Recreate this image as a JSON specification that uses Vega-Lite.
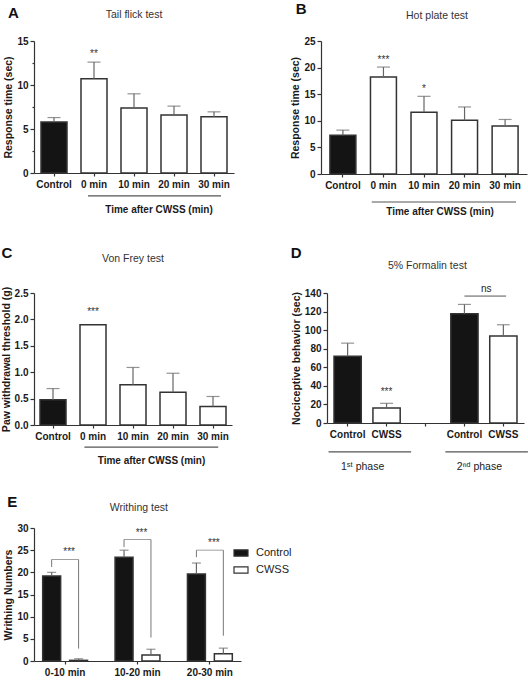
{
  "$schema": "https://vega.github.io/schema/vega-lite/v6.json",
  "padding": {"left": 1, "top": 2, "right": 0, "bottom": 0},
  "config": {
    "font": "Liberation Sans",
    "view": {"stroke": null},
    "axis": {"grid": false, "labelOverlap": false, "labelFont": "Liberation Sans", "labelFontWeight": "bold", "labelFontSize": 10, "labelColor": "#1a1a1a", "titleFont": "Liberation Sans", "titleFontWeight": "bold", "titleFontSize": 10.5, "titleColor": "#1a1a1a", "domainColor": "#333", "domainWidth": 1.2, "tickColor": "#333", "tickWidth": 1.2},
    "axisY": {"tickSize": 4, "labelPadding": 2, "titlePadding": 3},
    "axisX": {"tickSize": 3, "labelPadding": 3, "labelAngle": 0},
    "text": {"font": "Liberation Sans"}
  },
  "spacing": 28,
  "resolve": {"scale": {"fill": "independent"}, "legend": {"fill": "independent"}},
  "vconcat": [
    {
      "spacing": 56,
      "hconcat": [
        {
          "width": 200, "height": 132,
          "layer": [
            {
              "data": {"values": [
                {"time": "Control", "group": "Control", "mean": 5.8, "upper": 6.3, "sig": ""},
                {"time": "0 min", "group": "CWSS", "mean": 10.7, "upper": 12.6, "sig": "**"},
                {"time": "10 min", "group": "CWSS", "mean": 7.4, "upper": 9.0, "sig": ""},
                {"time": "20 min", "group": "CWSS", "mean": 6.6, "upper": 7.6, "sig": ""},
                {"time": "30 min", "group": "CWSS", "mean": 6.4, "upper": 6.95, "sig": ""}
              ]},
              "encoding": {
                "x": {"field": "time", "type": "nominal", "scale": {"domain": ["Control", "0 min", "10 min", "20 min", "30 min"], "paddingInner": 0.35, "paddingOuter": 0.175}, "axis": {"title": null}}
              },
              "layer": [
                {"mark": {"type": "bar", "stroke": "#333", "strokeWidth": 1.5},
                 "encoding": {
                   "y": {"field": "mean", "type": "quantitative", "scale": {"domain": [0, 15], "nice": false}, "axis": {"title": "Response time (sec)", "values": [0, 2.5, 5, 7.5, 10, 12.5, 15], "labelExpr": "datum.value % 5 == 0 ? datum.label : ''", "tickSize": {"condition": {"test": "datum.value % 5 != 0", "value": 2}, "value": 4}}},
                   "fill": {"condition": {"test": "datum.group == 'Control'", "value": "#141414"}, "value": "#ffffff"}
                 }},
                {"mark": {"type": "rule", "color": "#666", "strokeWidth": 1.2},
                 "encoding": {"y": {"field": "mean", "type": "quantitative", "axis": {"title": "Response time (sec)", "values": [0, 2.5, 5, 7.5, 10, 12.5, 15], "labelExpr": "datum.value % 5 == 0 ? datum.label : ''", "tickSize": {"condition": {"test": "datum.value % 5 != 0", "value": 2}, "value": 4}}}, "y2": {"field": "upper"}}},
                {"mark": {"type": "tick", "color": "#666", "thickness": 1.2, "size": 13},
                 "encoding": {"y": {"field": "upper", "type": "quantitative", "axis": {"title": "Response time (sec)", "values": [0, 2.5, 5, 7.5, 10, 12.5, 15], "labelExpr": "datum.value % 5 == 0 ? datum.label : ''", "tickSize": {"condition": {"test": "datum.value % 5 != 0", "value": 2}, "value": 4}}}}},
                {"mark": {"type": "text", "baseline": "bottom", "dy": -3, "fontSize": 10, "color": "#333"},
                 "encoding": {"y": {"field": "upper", "type": "quantitative", "axis": {"title": "Response time (sec)", "values": [0, 2.5, 5, 7.5, 10, 12.5, 15], "labelExpr": "datum.value % 5 == 0 ? datum.label : ''", "tickSize": {"condition": {"test": "datum.value % 5 != 0", "value": 2}, "value": 4}}}, "text": {"field": "sig"}}}
              ]
            },
            {
              "data": {"values": [{"from": "0 min", "to": "30 min", "label": "Time after CWSS (min)"}]},
              "layer": [
                {"mark": {"type": "rule", "color": "#555", "strokeWidth": 1.2},
                 "encoding": {
                   "x": {"field": "from", "type": "nominal", "bandPosition": 0.27, "axis": {"title": null}},
                   "x2": {"field": "to", "bandPosition": 0.77},
                   "y": {"datum": -2.6, "type": "quantitative", "axis": {"title": "Response time (sec)", "values": [0, 2.5, 5, 7.5, 10, 12.5, 15], "labelExpr": "datum.value % 5 == 0 ? datum.label : ''", "tickSize": {"condition": {"test": "datum.value % 5 != 0", "value": 2}, "value": 4}}}
                 }},
                {"mark": {"type": "text", "fontSize": 10, "fontWeight": "bold", "color": "#1a1a1a", "baseline": "middle"},
                 "encoding": {
                   "x": {"field": "from", "type": "nominal", "bandPosition": 3.0, "axis": {"title": null}},
                   "y": {"datum": -4.2, "type": "quantitative", "axis": {"title": "Response time (sec)", "values": [0, 2.5, 5, 7.5, 10, 12.5, 15], "labelExpr": "datum.value % 5 == 0 ? datum.label : ''", "tickSize": {"condition": {"test": "datum.value % 5 != 0", "value": 2}, "value": 4}}},
                   "text": {"field": "label"}
                 }}
              ]
            },
            {
              "data": {"values": [{"panel": "A", "test": "Tail flick test", "first": "Control", "middle": "10 min"}]},
              "layer": [
                {"mark": {"type": "text", "fontSize": 15, "fontWeight": "bold", "color": "#111", "baseline": "middle", "align": "center"},
                 "encoding": {
                   "x": {"field": "first", "type": "nominal", "bandPosition": -1.06, "axis": {"title": null}},
                   "y": {"datum": 18.2, "type": "quantitative", "axis": {"title": "Response time (sec)", "values": [0, 2.5, 5, 7.5, 10, 12.5, 15], "labelExpr": "datum.value % 5 == 0 ? datum.label : ''", "tickSize": {"condition": {"test": "datum.value % 5 != 0", "value": 2}, "value": 4}}},
                   "text": {"field": "panel"}
                 }},
                {"mark": {"type": "text", "fontSize": 10.5, "color": "#333", "baseline": "middle", "align": "center"},
                 "encoding": {
                   "x": {"field": "middle", "type": "nominal", "bandPosition": 0.5, "axis": {"title": null}},
                   "y": {"datum": 17.95, "type": "quantitative", "axis": {"title": "Response time (sec)", "values": [0, 2.5, 5, 7.5, 10, 12.5, 15], "labelExpr": "datum.value % 5 == 0 ? datum.label : ''", "tickSize": {"condition": {"test": "datum.value % 5 != 0", "value": 2}, "value": 4}}},
                   "text": {"field": "test"}
                 }}
              ]
            }
          ]
        },
        {
          "width": 206, "height": 133,
          "layer": [
            {
              "data": {"values": [
                {"time": "Control", "group": "Control", "mean": 7.3, "upper": 8.25, "sig": ""},
                {"time": "0 min", "group": "CWSS", "mean": 18.25, "upper": 20.1, "sig": "***"},
                {"time": "10 min", "group": "CWSS", "mean": 11.6, "upper": 14.6, "sig": "*"},
                {"time": "20 min", "group": "CWSS", "mean": 10.1, "upper": 12.6, "sig": ""},
                {"time": "30 min", "group": "CWSS", "mean": 9.0, "upper": 10.25, "sig": ""}
              ]},
              "encoding": {
                "x": {"field": "time", "type": "nominal", "scale": {"domain": ["Control", "0 min", "10 min", "20 min", "30 min"], "paddingInner": 0.36, "paddingOuter": 0.22}, "axis": {"title": null}}
              },
              "layer": [
                {"mark": {"type": "bar", "stroke": "#333", "strokeWidth": 1.5},
                 "encoding": {
                   "y": {"field": "mean", "type": "quantitative", "scale": {"domain": [0, 25], "nice": false}, "axis": {"title": "Response time (sec)", "values": [0, 5, 10, 15, 20, 25]}},
                   "fill": {"condition": {"test": "datum.group == 'Control'", "value": "#141414"}, "value": "#ffffff"}
                 }},
                {"mark": {"type": "rule", "color": "#666", "strokeWidth": 1.2},
                 "encoding": {"y": {"field": "mean", "type": "quantitative", "axis": {"title": "Response time (sec)", "values": [0, 5, 10, 15, 20, 25]}}, "y2": {"field": "upper"}}},
                {"mark": {"type": "tick", "color": "#666", "thickness": 1.2, "size": 13},
                 "encoding": {"y": {"field": "upper", "type": "quantitative", "axis": {"title": "Response time (sec)", "values": [0, 5, 10, 15, 20, 25]}}}},
                {"mark": {"type": "text", "baseline": "bottom", "dy": -2, "fontSize": 10, "color": "#333"},
                 "encoding": {"y": {"field": "upper", "type": "quantitative", "axis": {"title": "Response time (sec)", "values": [0, 5, 10, 15, 20, 25]}}, "text": {"field": "sig"}}}
              ]
            },
            {
              "data": {"values": [{"from": "0 min", "to": "30 min", "label": "Time after CWSS (min)"}]},
              "layer": [
                {"mark": {"type": "rule", "color": "#555", "strokeWidth": 1.2},
                 "encoding": {
                   "x": {"field": "from", "type": "nominal", "bandPosition": 0.05, "axis": {"title": null}},
                   "x2": {"field": "to", "bandPosition": 0.92},
                   "y": {"datum": -5.26, "type": "quantitative", "axis": {"title": "Response time (sec)", "values": [0, 5, 10, 15, 20, 25]}}
                 }},
                {"mark": {"type": "text", "fontSize": 10, "fontWeight": "bold", "color": "#1a1a1a", "baseline": "middle"},
                 "encoding": {
                   "x": {"field": "from", "type": "nominal", "bandPosition": 2.68, "axis": {"title": null}},
                   "y": {"datum": -7.1, "type": "quantitative", "axis": {"title": "Response time (sec)", "values": [0, 5, 10, 15, 20, 25]}},
                   "text": {"field": "label"}
                 }}
              ]
            },
            {
              "data": {"values": [{"panel": "B", "test": "Hot plate test", "first": "Control", "middle": "10 min"}]},
              "layer": [
                {"mark": {"type": "text", "fontSize": 15, "fontWeight": "bold", "color": "#111", "baseline": "middle", "align": "center"},
                 "encoding": {
                   "x": {"field": "first", "type": "nominal", "bandPosition": -1.11, "axis": {"title": null}},
                   "y": {"datum": 31.0, "type": "quantitative", "axis": {"title": "Response time (sec)", "values": [0, 5, 10, 15, 20, 25]}},
                   "text": {"field": "panel"}
                 }},
                {"mark": {"type": "text", "fontSize": 10.5, "color": "#333", "baseline": "middle", "align": "center"},
                 "encoding": {
                   "x": {"field": "middle", "type": "nominal", "bandPosition": 1.0, "axis": {"title": null}},
                   "y": {"datum": 29.7, "type": "quantitative", "axis": {"title": "Response time (sec)", "values": [0, 5, 10, 15, 20, 25]}},
                   "text": {"field": "test"}
                 }}
              ]
            }
          ]
        }
      ]
    },
    {
      "spacing": 21,
      "resolve": {"scale": {"fill": "independent"}, "legend": {"fill": "independent"}},
      "vconcat": [
        {
          "spacing": 58,
          "hconcat": [
            {
              "width": 198, "height": 132,
              "layer": [
                {
                  "data": {"values": [
                    {"time": "Control", "group": "Control", "mean": 0.48, "upper": 0.69, "sig": ""},
                    {"time": "0 min", "group": "CWSS", "mean": 1.9, "upper": 1.9, "sig": "***"},
                    {"time": "10 min", "group": "CWSS", "mean": 0.76, "upper": 1.09, "sig": ""},
                    {"time": "20 min", "group": "CWSS", "mean": 0.62, "upper": 0.98, "sig": ""},
                    {"time": "30 min", "group": "CWSS", "mean": 0.35, "upper": 0.54, "sig": ""}
                  ]},
                  "encoding": {
                    "x": {"field": "time", "type": "nominal", "scale": {"domain": ["Control", "0 min", "10 min", "20 min", "30 min"], "paddingInner": 0.35, "paddingOuter": 0.15}, "axis": {"title": null}}
                  },
                  "layer": [
                    {"mark": {"type": "bar", "stroke": "#333", "strokeWidth": 1.5},
                     "encoding": {
                       "y": {"field": "mean", "type": "quantitative", "scale": {"domain": [0, 2.5], "nice": false}, "axis": {"title": "Paw withdrawal threshold (g)", "values": [0, 0.5, 1, 1.5, 2, 2.5], "format": ".1f"}},
                       "fill": {"condition": {"test": "datum.group == 'Control'", "value": "#141414"}, "value": "#ffffff"}
                     }},
                    {"transform": [{"filter": "datum.upper > datum.mean"}],
                     "mark": {"type": "rule", "color": "#666", "strokeWidth": 1.2},
                     "encoding": {"y": {"field": "mean", "type": "quantitative", "axis": {"title": "Paw withdrawal threshold (g)", "values": [0, 0.5, 1, 1.5, 2, 2.5], "format": ".1f"}}, "y2": {"field": "upper"}}},
                    {"transform": [{"filter": "datum.upper > datum.mean"}],
                     "mark": {"type": "tick", "color": "#666", "thickness": 1.2, "size": 13},
                     "encoding": {"y": {"field": "upper", "type": "quantitative", "axis": {"title": "Paw withdrawal threshold (g)", "values": [0, 0.5, 1, 1.5, 2, 2.5], "format": ".1f"}}}},
                    {"mark": {"type": "text", "baseline": "bottom", "dy": -8, "fontSize": 10, "color": "#333"},
                     "encoding": {"y": {"field": "upper", "type": "quantitative", "axis": {"title": "Paw withdrawal threshold (g)", "values": [0, 0.5, 1, 1.5, 2, 2.5], "format": ".1f"}}, "text": {"field": "sig"}}}
                  ]
                },
                {
                  "data": {"values": [{"from": "0 min", "to": "30 min", "label": "Time after CWSS (min)"}]},
                  "layer": [
                    {"mark": {"type": "rule", "color": "#555", "strokeWidth": 1.2},
                     "encoding": {
                       "x": {"field": "from", "type": "nominal", "bandPosition": 0.17, "axis": {"title": null}},
                       "x2": {"field": "to", "bandPosition": 0.7},
                       "y": {"datum": -0.42, "type": "quantitative", "axis": {"title": "Paw withdrawal threshold (g)", "values": [0, 0.5, 1, 1.5, 2, 2.5], "format": ".1f"}}
                     }},
                    {"mark": {"type": "text", "fontSize": 10, "fontWeight": "bold", "color": "#1a1a1a", "baseline": "middle"},
                     "encoding": {
                       "x": {"field": "from", "type": "nominal", "bandPosition": 2.75, "axis": {"title": null}},
                       "y": {"datum": -0.68, "type": "quantitative", "axis": {"title": "Paw withdrawal threshold (g)", "values": [0, 0.5, 1, 1.5, 2, 2.5], "format": ".1f"}},
                       "text": {"field": "label"}
                     }}
                  ]
                },
                {
                  "data": {"values": [{"panel": "C", "test": "Von Frey test", "first": "Control", "middle": "10 min"}]},
                  "layer": [
                    {"mark": {"type": "text", "fontSize": 15, "fontWeight": "bold", "color": "#111", "baseline": "middle", "align": "center"},
                     "encoding": {
                       "x": {"field": "first", "type": "nominal", "bandPosition": -1.27, "axis": {"title": null}},
                       "y": {"datum": 3.26, "type": "quantitative", "axis": {"title": "Paw withdrawal threshold (g)", "values": [0, 0.5, 1, 1.5, 2, 2.5], "format": ".1f"}},
                       "text": {"field": "panel"}
                     }},
                    {"mark": {"type": "text", "fontSize": 10.5, "color": "#333", "baseline": "middle", "align": "center"},
                     "encoding": {
                       "x": {"field": "middle", "type": "nominal", "bandPosition": 0.5, "axis": {"title": null}},
                       "y": {"datum": 3.14, "type": "quantitative", "axis": {"title": "Paw withdrawal threshold (g)", "values": [0, 0.5, 1, 1.5, 2, 2.5], "format": ".1f"}},
                       "text": {"field": "test"}
                     }}
                  ]
                }
              ]
            },
            {
              "width": 197, "height": 130,
              "layer": [
                {
                  "data": {"values": [
                    {"cat": "Control (1st phase)", "group": "Control", "mean": 72.0, "upper": 86.0, "sig": ""},
                    {"cat": "CWSS (1st phase)", "group": "CWSS", "mean": 16.2, "upper": 21.2, "sig": "***"},
                    {"cat": "Control (2nd phase)", "group": "Control", "mean": 117.7, "upper": 127.7, "sig": ""},
                    {"cat": "CWSS (2nd phase)", "group": "CWSS", "mean": 93.6, "upper": 105.8, "sig": ""}
                  ]},
                  "encoding": {
                    "x": {"field": "cat", "type": "nominal", "scale": {"domain": ["Control (1st phase)", "CWSS (1st phase)", "between phases", "Control (2nd phase)", "CWSS (2nd phase)"], "paddingInner": 0.3, "paddingOuter": 0.18}, "axis": {"title": null, "labelExpr": "indexof(datum.value, ' (') > 0 ? split(datum.value, ' (')[0] : ''"}}
                  },
                  "layer": [
                    {"mark": {"type": "bar", "stroke": "#333", "strokeWidth": 1.5},
                     "encoding": {
                       "y": {"field": "mean", "type": "quantitative", "scale": {"domain": [0, 140], "nice": false}, "axis": {"title": "Nociceptive behavior (sec)", "values": [0, 20, 40, 60, 80, 100, 120, 140]}},
                       "fill": {"condition": {"test": "datum.group == 'Control'", "value": "#141414"}, "value": "#ffffff"}
                     }},
                    {"mark": {"type": "rule", "color": "#666", "strokeWidth": 1.2},
                     "encoding": {"y": {"field": "mean", "type": "quantitative", "axis": {"title": "Nociceptive behavior (sec)", "values": [0, 20, 40, 60, 80, 100, 120, 140]}}, "y2": {"field": "upper"}}},
                    {"mark": {"type": "tick", "color": "#666", "thickness": 1.2, "size": 13},
                     "encoding": {"y": {"field": "upper", "type": "quantitative", "axis": {"title": "Nociceptive behavior (sec)", "values": [0, 20, 40, 60, 80, 100, 120, 140]}}}},
                    {"mark": {"type": "text", "baseline": "bottom", "dy": -6, "fontSize": 10, "color": "#333"},
                     "encoding": {"y": {"field": "upper", "type": "quantitative", "axis": {"title": "Nociceptive behavior (sec)", "values": [0, 20, 40, 60, 80, 100, 120, 140]}}, "text": {"field": "sig"}}}
                  ]
                },
                {
                  "data": {"values": [
                    {"from": "Control (1st phase)", "to": "CWSS (1st phase)", "label": "1ˢᵗ phase"},
                    {"from": "Control (2nd phase)", "to": "CWSS (2nd phase)", "label": "2ⁿᵈ phase"}
                  ]},
                  "layer": [
                    {"mark": {"type": "rule", "color": "#555", "strokeWidth": 1.2},
                     "encoding": {
                       "x": {"field": "from", "type": "nominal", "bandPosition": -0.2, "axis": {"title": null}},
                       "x2": {"field": "to", "bandPosition": 1.4},
                       "y": {"datum": -31, "type": "quantitative", "axis": {"title": "Nociceptive behavior (sec)", "values": [0, 20, 40, 60, 80, 100, 120, 140]}}
                     }},
                    {"mark": {"type": "text", "fontSize": 10.5, "color": "#222", "baseline": "middle"},
                     "encoding": {
                       "x": {"field": "from", "type": "nominal", "bandPosition": 1.05, "axis": {"title": null}},
                       "y": {"datum": -47.5, "type": "quantitative", "axis": {"title": "Nociceptive behavior (sec)", "values": [0, 20, 40, 60, 80, 100, 120, 140]}},
                       "text": {"field": "label"}
                     }}
                  ]
                },
                {
                  "data": {"values": [{"from": "Control (2nd phase)", "to": "CWSS (2nd phase)", "label": "ns"}]},
                  "layer": [
                    {"mark": {"type": "rule", "color": "#555", "strokeWidth": 1},
                     "encoding": {
                       "x": {"field": "from", "type": "nominal", "bandPosition": 0.5, "axis": {"title": null}},
                       "x2": {"field": "to", "bandPosition": 0.6},
                       "y": {"datum": 136.7, "type": "quantitative", "axis": {"title": "Nociceptive behavior (sec)", "values": [0, 20, 40, 60, 80, 100, 120, 140]}}
                     }},
                    {"mark": {"type": "text", "fontSize": 10, "color": "#222", "baseline": "bottom", "dy": -2},
                     "encoding": {
                       "x": {"field": "from", "type": "nominal", "bandPosition": 1.3, "axis": {"title": null}},
                       "y": {"datum": 136.7, "type": "quantitative", "axis": {"title": "Nociceptive behavior (sec)", "values": [0, 20, 40, 60, 80, 100, 120, 140]}},
                       "text": {"field": "label"}
                     }}
                  ]
                },
                {
                  "data": {"values": [{"panel": "D", "test": "5% Formalin test", "first": "Control (1st phase)", "middle": "between phases"}]},
                  "layer": [
                    {"mark": {"type": "text", "fontSize": 15, "fontWeight": "bold", "color": "#111", "baseline": "middle", "align": "center"},
                     "encoding": {
                       "x": {"field": "first", "type": "nominal", "bandPosition": -1.39, "axis": {"title": null}},
                       "y": {"datum": 183, "type": "quantitative", "axis": {"title": "Nociceptive behavior (sec)", "values": [0, 20, 40, 60, 80, 100, 120, 140]}},
                       "text": {"field": "panel"}
                     }},
                    {"mark": {"type": "text", "fontSize": 10.5, "color": "#333", "baseline": "middle", "align": "center"},
                     "encoding": {
                       "x": {"field": "middle", "type": "nominal", "bandPosition": 0.57, "axis": {"title": null}},
                       "y": {"datum": 169, "type": "quantitative", "axis": {"title": "Nociceptive behavior (sec)", "values": [0, 20, 40, 60, 80, 100, 120, 140]}},
                       "text": {"field": "test"}
                     }}
                  ]
                }
              ]
            }
          ]
        },
        {
          "width": 207, "height": 133,
          "layer": [
            {
              "data": {"values": [
                {"time": "0-10 min", "group": "Control", "mean": 19.2, "upper": 20.0},
                {"time": "0-10 min", "group": "CWSS", "mean": 0.15, "upper": 0.5},
                {"time": "10-20 min", "group": "Control", "mean": 23.4, "upper": 25.0},
                {"time": "10-20 min", "group": "CWSS", "mean": 1.36, "upper": 2.65},
                {"time": "20-30 min", "group": "Control", "mean": 19.65, "upper": 22.1},
                {"time": "20-30 min", "group": "CWSS", "mean": 1.66, "upper": 2.9}
              ]},
              "encoding": {
                "x": {"field": "time", "type": "nominal", "scale": {"domain": ["0-10 min", "10-20 min", "20-30 min"], "paddingInner": 0.38, "paddingOuter": 0.12}, "axis": {"title": null}},
                "xOffset": {"field": "group", "type": "nominal", "scale": {"domain": ["Control", "CWSS"], "paddingInner": 0.333, "paddingOuter": 0}}
              },
              "layer": [
                {"mark": {"type": "bar", "stroke": "#333", "strokeWidth": 1.5},
                 "encoding": {
                   "y": {"field": "mean", "type": "quantitative", "scale": {"domain": [0, 30], "nice": false}, "axis": {"title": "Writhing Numbers", "values": [0, 5, 10, 15, 20, 25, 30]}},
                   "fill": {"field": "group", "type": "nominal", "scale": {"domain": ["Control", "CWSS"], "range": ["#141414", "#ffffff"]},
                     "legend": {"orient": "none", "legendX": 199, "legendY": 17, "title": null, "padding": 0, "symbolType": "M-1,-0.45H1V0.45H-1Z", "symbolSize": 196, "symbolStrokeColor": "#333", "symbolStrokeWidth": 1.2, "labelFontSize": 11, "labelFont": "Liberation Sans", "labelColor": "#222", "labelOffset": 7, "rowPadding": 3}}
                 }},
                {"mark": {"type": "rule", "color": "#666", "strokeWidth": 1.2},
                 "encoding": {"y": {"field": "mean", "type": "quantitative", "axis": {"title": "Writhing Numbers", "values": [0, 5, 10, 15, 20, 25, 30]}}, "y2": {"field": "upper"}}},
                {"mark": {"type": "tick", "color": "#666", "thickness": 1.2, "size": 9},
                 "encoding": {"y": {"field": "upper", "type": "quantitative", "axis": {"title": "Writhing Numbers", "values": [0, 5, 10, 15, 20, 25, 30]}}}}
              ]
            },
            {
              "data": {"values": [
                {"time": "0-10 min", "group": "Control", "top": 22.9, "end": 21.2},
                {"time": "0-10 min", "group": "CWSS", "top": 22.9, "end": 2.8},
                {"time": "10-20 min", "group": "Control", "top": 27.4, "end": 25.7},
                {"time": "10-20 min", "group": "CWSS", "top": 27.4, "end": 5.3},
                {"time": "20-30 min", "group": "Control", "top": 25.0, "end": 23.4},
                {"time": "20-30 min", "group": "CWSS", "top": 25.0, "end": 5.7}
              ]},
              "mark": {"type": "rule", "color": "#777", "strokeWidth": 1},
              "encoding": {
                "x": {"field": "time", "type": "nominal", "axis": {"title": null}},
                "xOffset": {"field": "group", "type": "nominal"},
                "y": {"field": "top", "type": "quantitative", "axis": {"title": "Writhing Numbers", "values": [0, 5, 10, 15, 20, 25, 30]}},
                "y2": {"field": "end"}
              }
            },
            {
              "data": {"values": [
                {"time": "0-10 min", "top": 22.9, "sig": "***"},
                {"time": "10-20 min", "top": 27.4, "sig": "***"},
                {"time": "20-30 min", "top": 25.0, "sig": "***"}
              ]},
              "layer": [
                {"mark": {"type": "tick", "color": "#777", "thickness": 1, "size": 27},
                 "encoding": {
                   "x": {"field": "time", "type": "nominal", "axis": {"title": null}},
                   "y": {"field": "top", "type": "quantitative", "axis": {"title": "Writhing Numbers", "values": [0, 5, 10, 15, 20, 25, 30]}}
                 }},
                {"mark": {"type": "text", "baseline": "bottom", "dy": -2, "dx": 4, "fontSize": 10, "color": "#333"},
                 "encoding": {
                   "x": {"field": "time", "type": "nominal", "axis": {"title": null}},
                   "y": {"field": "top", "type": "quantitative", "axis": {"title": "Writhing Numbers", "values": [0, 5, 10, 15, 20, 25, 30]}},
                   "text": {"field": "sig"}
                 }}
              ]
            },
            {
              "data": {"values": [{"panel": "E", "test": "Writhing test", "first": "0-10 min", "middle": "10-20 min"}]},
              "layer": [
                {"mark": {"type": "text", "fontSize": 15, "fontWeight": "bold", "color": "#111", "baseline": "middle", "align": "center"},
                 "encoding": {
                   "x": {"field": "first", "type": "nominal", "bandPosition": -0.68, "axis": {"title": null}},
                   "y": {"datum": 35.9, "type": "quantitative", "axis": {"title": "Writhing Numbers", "values": [0, 5, 10, 15, 20, 25, 30]}},
                   "text": {"field": "panel"}
                 }},
                {"mark": {"type": "text", "fontSize": 10.5, "color": "#333", "baseline": "middle", "align": "center"},
                 "encoding": {
                   "x": {"field": "middle", "type": "nominal", "bandPosition": 0.53, "axis": {"title": null}},
                   "y": {"datum": 34.5, "type": "quantitative", "axis": {"title": "Writhing Numbers", "values": [0, 5, 10, 15, 20, 25, 30]}},
                   "text": {"field": "test"}
                 }}
              ]
            }
          ]
        }
      ]
    }
  ]
}
